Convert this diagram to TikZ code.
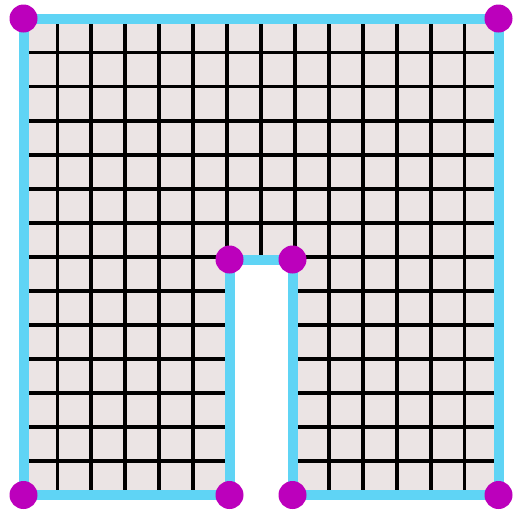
\documentclass[tikz,border=0pt]{standalone}
\definecolor{paper}{RGB}{235,228,228}
\definecolor{edgecyan}{RGB}{95,212,245}
\definecolor{vmag}{RGB}{188,0,188}
\tikzset{
  vertex/.style={circle,fill=vmag,inner sep=0pt,minimum size=28pt},
  border/.style={edgecyan,line width=10pt,line join=miter},
  gridline/.style={black,line width=3.8pt}
}
\begin{document}
\begin{tikzpicture}[x=1pt,y=-1pt]
\useasboundingbox (0,0) rectangle (515,512);
\coordinate (TL) at (23.5,18.5);
\coordinate (TR) at (498.5,18.5);
\coordinate (BR) at (498.5,495);
\coordinate (NBR) at (292.5,495);
\coordinate (NTR) at (292.5,259.5);
\coordinate (NTL) at (229.5,259.5);
\coordinate (NBL) at (229.5,495);
\coordinate (BL) at (23.5,495);
\fill[paper] (TL) -- (TR) -- (BR) -- (NBR) -- (NTR) -- (NTL) -- (NBL) -- (BL) -- cycle;
\begin{scope}
\clip (TL) -- (TR) -- (BR) -- (NBR) -- (NTR) -- (NTL) -- (NBL) -- (BL) -- cycle;
\foreach \i in {1,...,13} {
  \draw[gridline] (23.5+33.93*\i,10) -- (23.5+33.93*\i,505);
  \draw[gridline] (10,18.5+34.04*\i) -- (510,18.5+34.04*\i);
}
\end{scope}
\draw[border] (TL) -- (TR) -- (BR) -- (NBR) -- (NTR) -- (NTL) -- (NBL) -- (BL) -- cycle;
\foreach \n in {TL,TR,BR,NBR,NTR,NTL,NBL,BL} {
  \node[vertex] (v\n) at (\n) {};
}
\end{tikzpicture}
\end{document}
